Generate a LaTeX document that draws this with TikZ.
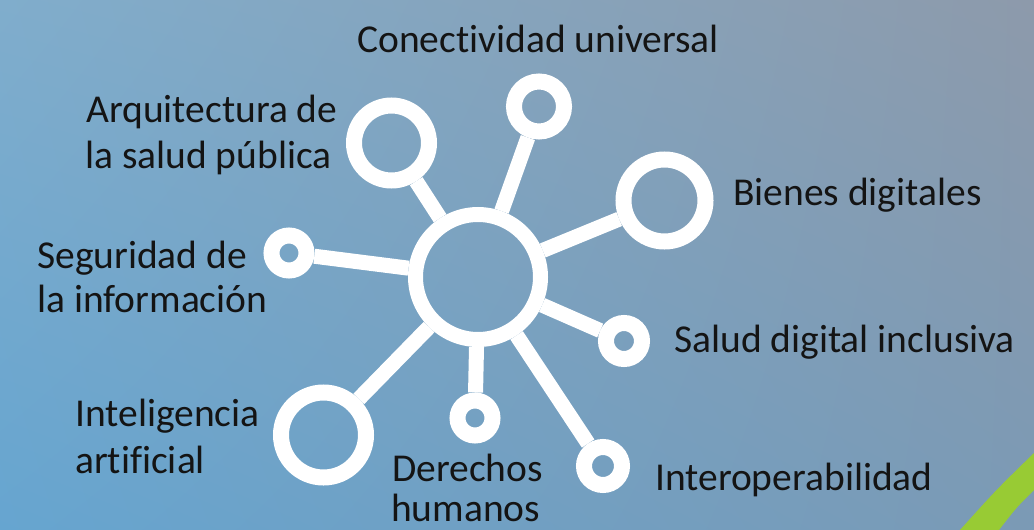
\documentclass[tikz,border=0pt]{standalone}
\usepackage{fontspec}
\usetikzlibrary{shadings}
\setmainfont[Ligatures=NoCommon]{Carlito}
\definecolor{bgUL}{RGB}{128,173,204}
\definecolor{bgUR}{RGB}{141,154,171}
\definecolor{bgLL}{RGB}{102,165,208}
\definecolor{bgLR}{RGB}{123,154,181}
\definecolor{swoosh}{RGB}{152,203,52}
\definecolor{txt}{RGB}{20,20,20}
\begin{document}
\begin{tikzpicture}[x=1pt,y=-1pt,
  ring/.style={circle,draw=white,line width=16pt,inner sep=0pt,minimum size=#1},
  spoke/.style={draw=white,line width=15pt},
  lbl/.style={anchor=base west,inner sep=0pt,text=txt,font=\fontsize{39.5}{46}\selectfont}]
\useasboundingbox (0,0) rectangle (1034,530);
\shade[upper left=bgUL,upper right=bgUR,lower left=bgLL,lower right=bgLR] (0,0) rectangle (1034,530);
\fill[swoosh] (1034,453) .. controls (996,490) .. (960,530) -- (999,530) .. controls (1016,508) .. (1034,490) -- cycle;
% rings
\node[ring=125pt,line width=15pt] (hub) at (478,277) {};
\node[ring=75pt] (arq) at (391.5,143) {};
\node[ring=50pt] (con) at (539,106.5) {};
\node[ring=82pt] (bie) at (664.5,200.5) {};
\node[ring=35pt] (seg) at (289,253) {};
\node[ring=36pt] (sal) at (624,341) {};
\node[ring=85pt] (ia) at (323.5,435) {};
\node[ring=35pt] (der) at (475,418) {};
\node[ring=38pt] (iop) at (603,466) {};
% spokes
\foreach \n in {arq,con,bie,seg,sal,ia,der,iop}
  \draw[spoke] (hub) -- (\n);
% labels
\node[lbl] (tcon) at (357,52) {Conectividad universal};
\node[lbl] (tarq1) at (86,122) {Arquitectura de};
\node[lbl] (tarq2) at (85,168) {la salud pública};
\node[lbl] (tbie) at (733,205) {Bienes digitales};
\node[lbl] (tseg1) at (37,268) {Seguridad de};
\node[lbl] (tseg2) at (37,312) {la información};
\node[lbl] (tsal) at (674,352) {Salud digital inclusiva};
\node[lbl] (tia1) at (75,426) {Inteligencia};
\node[lbl] (tia2) at (75,473) {artificial};
\node[lbl] (tder1) at (392,481) {Derechos};
\node[lbl] (tder2) at (391,521) {humanos};
\node[lbl] (tiop) at (655,490) {Interoperabilidad};
\end{tikzpicture}
\end{document}
